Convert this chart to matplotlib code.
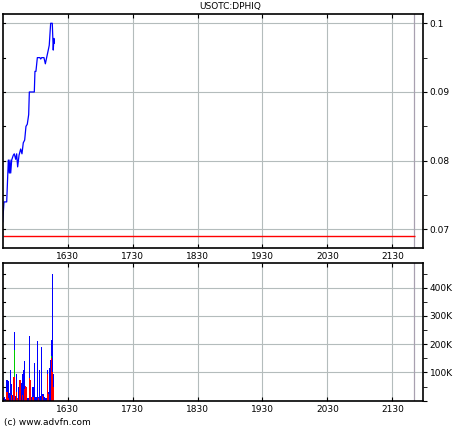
import matplotlib
matplotlib.use("Agg")
import matplotlib.pyplot as plt
from matplotlib.ticker import MultipleLocator, FuncFormatter

# ---- data ----
title = "USOTC:DPHIQ"
# minutes since 15:30
price_t = [0, 1.2, 3.7, 5.2, 6.1, 6.7, 7.4, 8.3, 9.8, 10.7, 12, 12.9, 13.8, 15.1,
           16.6, 17.8, 19, 20.3, 21.5, 22.7, 24, 24.6, 29.2, 29.8, 30.7, 32, 34.4,
           35.1, 36, 38.1, 39.4, 40.6, 42.1, 43, 44.3, 45.8, 46.7, 47.3, 47.6]
price_v = [0.0711, 0.0740, 0.0740, 0.0801, 0.0782, 0.0801, 0.0782, 0.0801, 0.0808,
           0.0810, 0.0802, 0.0810, 0.0791, 0.0808, 0.0817, 0.0810, 0.0826, 0.0830,
           0.0850, 0.0853, 0.0867, 0.0900, 0.0900, 0.0930, 0.0930, 0.0950, 0.0950,
           0.0948, 0.0950, 0.0950, 0.0941, 0.0950, 0.0961, 0.0968, 0.1000, 0.1000,
           0.0961, 0.0978, 0.0971]
ref_price = 0.069

vol_total = [193, 8, 13, 5, 75, 71, 27, 110, 60, 20, 84, 244, 15, 94, 10, 47, 73, 62,
             94, 110, 141, 51, 48, 10, 8, 229, 75, 12, 47, 133, 12, 12, 212, 13, 108,
             15, 191, 25, 22, 12, 8, 110, 30, 115, 143, 214, 450, 96]
vol_red = [193, 0, 0, 0, 31, 10, 0, 0, 20, 0, 84, 84, 0, 30, 10, 0, 73, 0,
           20, 0, 40, 51, 48, 0, 0, 79, 75, 0, 12, 0, 0, 0, 0, 8, 0,
           0, 0, 18, 0, 0, 0, 96, 25, 0, 0, 150, 100, 50]
vol_green = [0, 0, 0, 0, 0, 0, 0, 0, 0, 0, 0, 181, 0, 0, 0, 0, 0, 0,
             0, 0, 0, 0, 0, 0, 0, 0, 0, 0, 0, 0, 0, 0, 0, 0, 0,
             0, 0, 0, 0, 0, 0, 0, 0, 0, 0, 160, 0, 0]
vol_t = list(range(len(vol_total)))

tick_pos = [60, 120, 180, 240, 300, 360]
tick_labels = ["1630", "1730", "1830", "1930", "2030", "2130"]
session_end = 380

# ---- figure ----
W, H = 460, 430
fig = plt.figure(figsize=(W / 100, H / 100), dpi=100)
plt.rcParams['font.family'] = ['DejaVu Sans']
fs = 6.5

ax1 = fig.add_axes([2.7 / W, 1 - 248 / H, 420 / W, 234 / H])
ax2 = fig.add_axes([2.7 / W, 1 - 400.7 / H, 420 / W, 137.7 / H])

grid_c = '#b4bcbc'
for ax in (ax1, ax2):
    ax.set_xlim(0, 388)
    ax.set_xticks(tick_pos)
    ax.set_xticklabels(tick_labels, fontsize=fs)
    ax.grid(True, color=grid_c, lw=0.8)
    ax.axvline(session_end, color='#a8a0b0', lw=0.9)
    for s in ax.spines.values():
        s.set_linewidth(1.2)
    ax.yaxis.tick_right()
    ax.tick_params(axis='x', which='both', direction='in', length=3, top=True,
                   bottom=True, pad=3, labelsize=fs)
    ax.tick_params(axis='y', which='both', direction='out', length=3, right=True,
                   left=False, pad=2, labelsize=fs)
    ax.set_axisbelow(True)

# price panel
ax1.plot(price_t, price_v, color='#0000ff', lw=0.9)
ax1.hlines(ref_price, 0, session_end + 1, color='#ff0000', lw=1.0)
ax1.set_ylim(0.06729, 0.10135)
ax1.yaxis.set_major_locator(MultipleLocator(0.01))
ax1.yaxis.set_minor_locator(MultipleLocator(0.005))
ax1.yaxis.set_major_formatter(FuncFormatter(lambda v, p: ('%.2f' % v) if abs(v - 0.1) > 1e-9 else '0.1'))

# volume panel
bar_kw = dict(width=1.0, linewidth=0, antialiased=False)
ax2.bar(vol_t, vol_total, color='#0000ff', **bar_kw)
ax2.bar(vol_t, vol_green, color='#00cc00', **bar_kw)
ax2.bar(vol_t, vol_red, color='#ff0000', **bar_kw)
ax2.set_ylim(0, 487.6)
ax2.yaxis.set_major_locator(MultipleLocator(100))
ax2.yaxis.set_minor_locator(MultipleLocator(50))
ax2.yaxis.set_major_formatter(FuncFormatter(lambda v, p: '' if v <= 0 else '%dK' % v))

# left inner ticks
for ax in (ax1, ax2):
    lo, hi = ax.get_ylim()
    ticks = ax.get_yticks(minor=False).tolist() + ax.get_yticks(minor=True).tolist()
    for t in ticks:
        if lo < t < hi:
            ax.plot([0, 2], [t, t], color='black', lw=0.8, clip_on=False)
    ax.set_xlim(0, 388)
    ax.set_ylim(lo, hi)

fig.text(0.5, 1 - 6.5 / H, title, ha='center', va='center', fontsize=fs)
fig.text(4 / W, 1 - 423 / H, "(c) www.advfn.com", ha='left', va='center', fontsize=fs)

fig.savefig('out.png', dpi=100)
